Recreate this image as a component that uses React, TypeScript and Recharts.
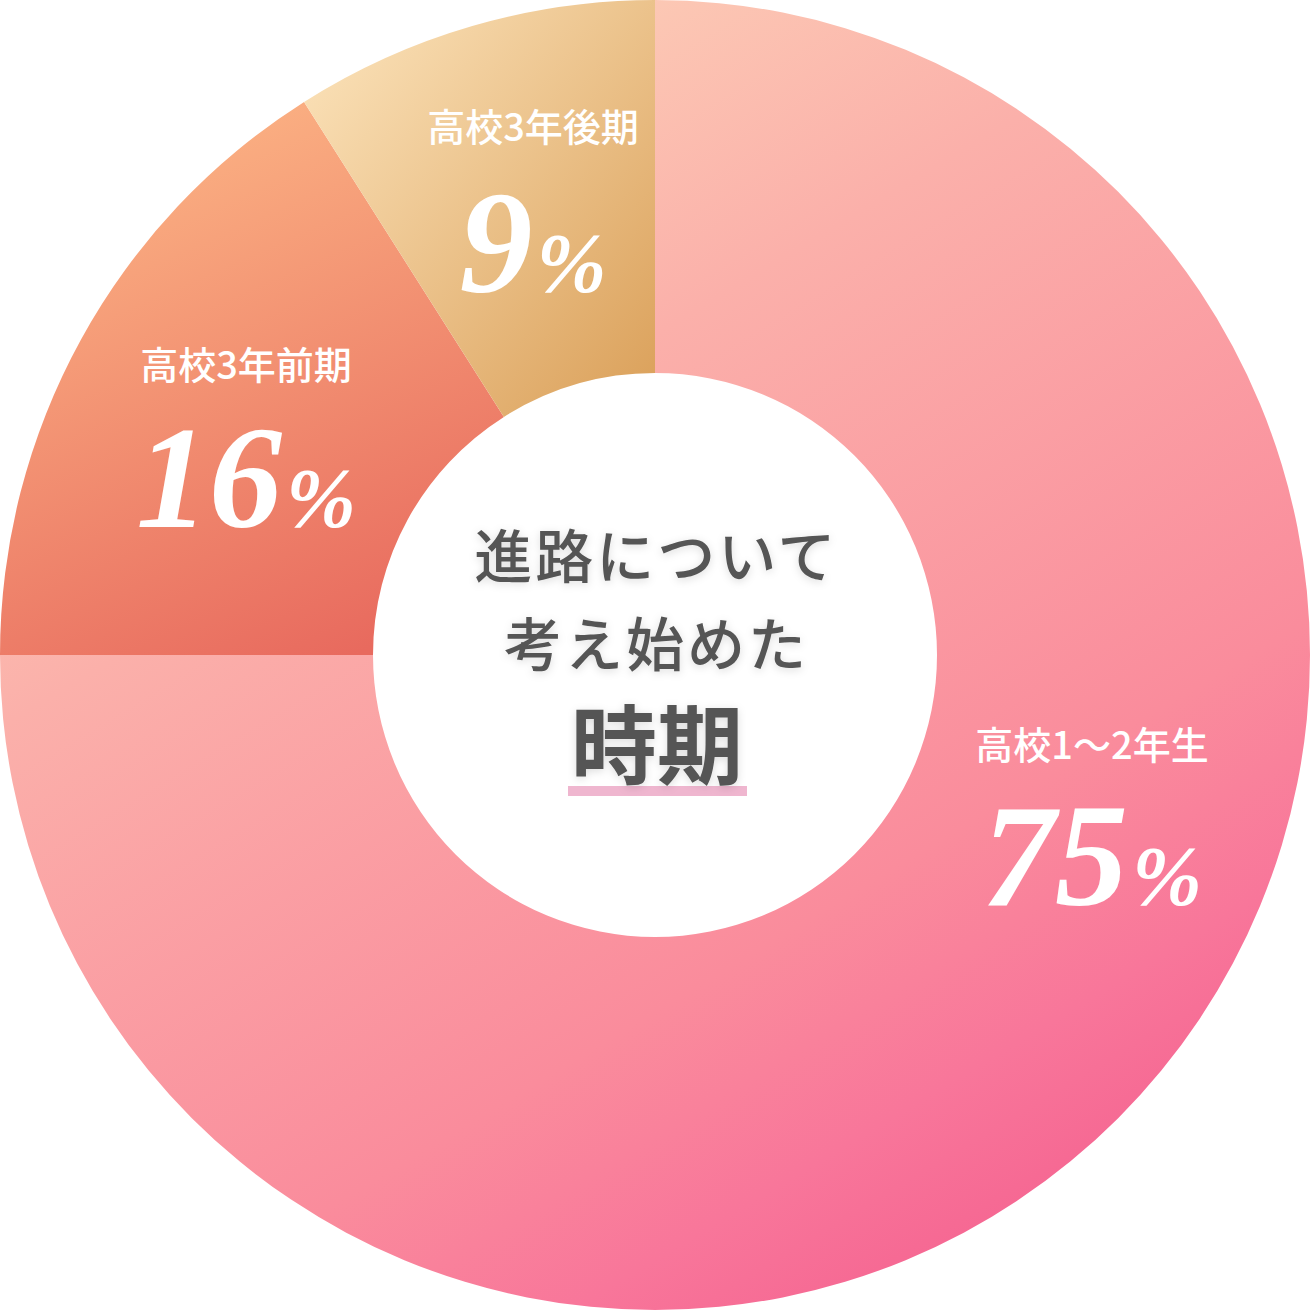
import React from "react";
import { PieChart, Pie, Cell, Label } from "recharts";

const categories = ["高校1〜2年生", "高校3年前期", "高校3年後期"];
const values = [75, 16, 9];
const percentLabels = ["75", "16", "9"];
const centerLines = ["進路について", "考え始めた"];
const centerTitle = "時期";

const data = categories.map((name, i) => ({ name, value: values[i] }));

const W = 1312;
const CX = 655;
const CY = 655;

const GRADIENTS = [
  {
    id: "g0",
    x1: 0.2, y1: 0, x2: 0.8, y2: 1,
    stops: [
      [0, "#fdd2b7"],
      [0.13, "#fcc8b4"],
      [0.32, "#fbb0aa"],
      [0.7, "#fa8c9c"],
      [0.84, "#f8769a"],
      [1, "#f45e8e"],
    ],
  },
  {
    id: "g1",
    x1: 0.3, y1: 0, x2: 0.7, y2: 1,
    stops: [
      [0, "#fcb585"],
      [1, "#e86a5e"],
    ],
  },
  {
    id: "g2",
    x1: 0, y1: 0, x2: 1, y2: 1,
    stops: [
      [0, "#fde6bf"],
      [1, "#da9f58"],
    ],
  },
];

// label anchor offsets relative to pie centre: title baseline, number baseline
const LABEL_POS = [
  { dx: 437, titleDy: 104, numDy: 250 },
  { dx: -409, titleDy: -276, numDy: -128 },
  { dx: -122, titleDy: -514, numDy: -363 },
];

const JP = '"Noto Sans CJK JP", "Noto Sans", sans-serif';
const SERIF = '"Liberation Serif", "DejaVu Serif", serif';

const renderLabel = (props: any) => {
  const { index } = props;
  const p = LABEL_POS[index];
  const x = CX + p.dx;
  return (
    <g key={`lbl-${index}`}>
      <text
        x={x}
        y={CY + p.titleDy}
        textAnchor="middle"
        fill="#ffffff"
        fontFamily={JP}
        fontWeight={500}
        fontSize={38}
      >
        {categories[index]}
      </text>
      <text
        x={x}
        y={CY + p.numDy}
        textAnchor="middle"
        fill="#ffffff"
        fontFamily={SERIF}
        fontStyle="italic"
        fontWeight={700}
        fontSize={146}
      >
        <tspan>{percentLabels[index]}</tspan>
        <tspan fontSize={84} dx={4}>%</tspan>
      </text>
    </g>
  );
};

const renderCenter = (props: any) => {
  const vb = props.viewBox || {};
  const cx = vb.cx ?? CX;
  const cy = vb.cy ?? CY;
  return (
    <g>
      <rect x={cx - 87} y={cy + 131} width={179} height={10} fill="#efb6cf" />
      <g filter="url(#softShadow)">
        <text x={cx + 1.5} y={cy - 77} textAnchor="middle" fill="#555555" fontFamily={JP} fontWeight={500} fontSize={58} letterSpacing={3}>
          {centerLines[0]}
        </text>
        <text x={cx + 1.5} y={cy + 11} textAnchor="middle" fill="#555555" fontFamily={JP} fontWeight={500} fontSize={58} letterSpacing={3}>
          {centerLines[1]}
        </text>
        <text x={cx + 2} y={cy + 123} textAnchor="middle" fill="#555555" fontFamily={JP} fontWeight={700} fontSize={86}>
          {centerTitle}
        </text>
      </g>
    </g>
  );
};

export default function App() {
  return (
    <div style={{ position: "absolute", left: 0, top: 0, width: W, height: W, background: "#ffffff" }}>
      <PieChart width={W} height={W} margin={{ top: 0, right: 0, bottom: 0, left: 0 }}>
        <defs>
          {GRADIENTS.map((g) => (
            <linearGradient key={g.id} id={g.id} x1={g.x1} y1={g.y1} x2={g.x2} y2={g.y2}>
              {g.stops.map(([o, c], i) => (
                <stop key={i} offset={o as number} stopColor={c as string} />
              ))}
            </linearGradient>
          ))}
          <filter id="softShadow" x="-20%" y="-40%" width="140%" height="180%">
            <feDropShadow dx="0" dy="2" stdDeviation="4" floodColor="#000000" floodOpacity="0.14" />
          </filter>
        </defs>
        <Pie
          data={data}
          dataKey="value"
          nameKey="name"
          cx={CX}
          cy={CY}
          innerRadius={282}
          outerRadius={655}
          startAngle={90}
          endAngle={-270}
          paddingAngle={0}
          stroke="none"
          isAnimationActive={false}
          labelLine={false}
          label={renderLabel}
        >
          {data.map((d, i) => (
            <Cell key={d.name} fill={`url(#${GRADIENTS[i].id})`} stroke="none" />
          ))}
          <Label position="center" content={renderCenter} />
        </Pie>
      </PieChart>
    </div>
  );
}
